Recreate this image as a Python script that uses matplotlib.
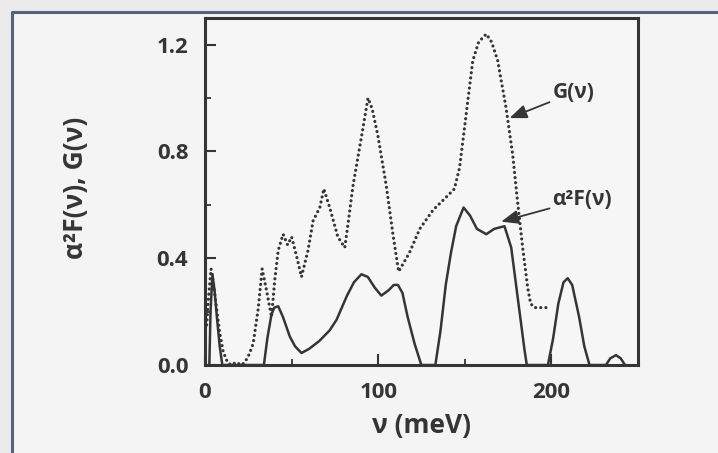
import matplotlib
matplotlib.use('Agg')
import matplotlib.pyplot as plt
from matplotlib.patches import Rectangle
from matplotlib.lines import Line2D
from matplotlib.ticker import MultipleLocator

plt.rcParams['font.family'] = ['Open Sans', 'DejaVu Sans']
plt.rcParams['font.weight'] = 'bold'
plt.rcParams['axes.labelweight'] = 'bold'

# alpha^2 F(nu) (meV, arbitrary units)
a2f_x = [2.5, 3.2, 4.3, 5.5, 7, 8.5, 10, 34, 36, 38.4, 40, 42.3, 45, 49, 52, 55.7, 60,
         66, 72, 76, 82, 86, 90.3, 94, 98, 101.8, 106, 109, 111.4, 114, 117, 121, 124.9,
         133, 136, 139, 142, 145, 149.3, 153, 157, 162.4, 167, 172.9, 176.8, 180.6,
         184.4, 185.8, 198, 201, 204, 207, 209.4, 212, 216, 219, 222, 231.5, 234, 237.3,
         240, 242.5]
a2f_y = [0.0, 0.2, 0.34, 0.28, 0.17, 0.07, 0.0, 0.0, 0.1, 0.19, 0.215, 0.22, 0.18, 0.106,
         0.07, 0.045, 0.06, 0.09, 0.13, 0.17, 0.26, 0.31, 0.34, 0.33, 0.29, 0.26, 0.28,
         0.30, 0.30, 0.27, 0.18, 0.08, 0.0, 0.0, 0.13, 0.30, 0.42, 0.52, 0.59, 0.56, 0.51,
         0.49, 0.51, 0.52, 0.44, 0.25, 0.06, 0.0, 0.0, 0.10, 0.23, 0.31, 0.325, 0.30, 0.18,
         0.07, 0.0, 0.0, 0.025, 0.037, 0.025, 0.0]

# phonon density of states G(nu)
g_x = [1, 2, 3.5, 5, 6.5, 8.5, 10.5, 13, 15, 18, 21, 23, 25.5, 27.8, 30.7, 33, 35.5,
       38.4, 40.3, 42.3, 45.1, 47.7, 50, 52.8, 55.7, 59.5, 62.4, 66.3, 68.6, 72, 76.7,
       80.7, 82.4, 85.4, 91, 94.1, 96.5, 99.8, 104.7, 108.5, 111.8, 118, 124, 131.6,
       141, 144, 147, 150.8, 154.6, 158, 162.4, 165.5, 169, 173.9, 177.6, 180.5, 183.4,
       186.3, 188, 190.2, 199]
g_y = [0.15, 0.25, 0.36, 0.30, 0.22, 0.12, 0.05, 0.01, 0.0, 0.01, 0.0, 0.01, 0.04, 0.08,
       0.21, 0.36, 0.28, 0.18, 0.32, 0.43, 0.49, 0.45, 0.48, 0.41, 0.33, 0.43, 0.54, 0.59,
       0.66, 0.59, 0.48, 0.44, 0.52, 0.67, 0.88, 1.00, 0.96, 0.86, 0.67, 0.49, 0.35, 0.42,
       0.51, 0.58, 0.64, 0.66, 0.74, 0.94, 1.14, 1.21, 1.24, 1.21, 1.14, 0.96, 0.79, 0.61,
       0.44, 0.29, 0.23, 0.215, 0.215]

ink = '#353535'

fig = plt.figure(figsize=(7.18, 4.53), dpi=100, facecolor='#ebebeb')
# scanned page frame: lighter panel with a dark edge on the left and top only
x0, y0 = 11.5 / 718, 1 - 11.5 / 453
fig.patches.append(Rectangle((x0, 0), 1 - x0, y0, transform=fig.transFigure,
                             facecolor='#f4f4f4', edgecolor='none', zorder=-5))
fig.lines.append(Line2D([x0, x0, 1], [0, y0, y0], transform=fig.transFigure,
                        color='#5a6078', lw=2.2, zorder=-4))

ax = fig.add_axes([205 / 718, 1 - 365 / 453, 433 / 718, 347 / 453])
ax.set_zorder(5)
ax.set_facecolor('#f6f6f6')

ax.plot(a2f_x, a2f_y, color=ink, lw=1.8, solid_joinstyle='round')
ax.plot(g_x, g_y, color=ink, lw=2.3, linestyle=(0, (0.01, 1.6)), dash_capstyle='round')

ax.set_xlim(0, 250)
ax.set_ylim(0, 1.3)
ax.xaxis.set_major_locator(MultipleLocator(100))
ax.xaxis.set_minor_locator(MultipleLocator(50))
ax.yaxis.set_major_locator(MultipleLocator(0.4))
ax.yaxis.set_minor_locator(MultipleLocator(0.2))
ax.yaxis.set_major_formatter(plt.FuncFormatter(lambda v, p: '%.1f' % v))

for s in ax.spines.values():
    s.set_linewidth(2.2)
    s.set_color(ink)
ax.tick_params(which='major', direction='in', length=8, width=1.5, color=ink,
               labelsize=16, labelcolor=ink)
ax.tick_params(which='minor', direction='in', length=4, width=1.3, color=ink)
ax.tick_params(axis='y', which='major', pad=12)
ax.tick_params(axis='x', which='major', pad=12)

ax.set_xlabel('ν (meV)', fontsize=19, color=ink)
ax.set_ylabel('α²F(ν), G(ν)', fontsize=19, color=ink)
ax.xaxis.set_label_coords(0.5, -0.135)
ax.yaxis.set_label_coords(-0.268, 0.51)

arrow = dict(arrowstyle='-|>,head_length=0.7,head_width=0.28', color=ink, lw=1.3,
             shrinkA=0, shrinkB=0)
ax.annotate('G(ν)', xy=(175.8, 0.925), xytext=(200.5, 1.02), fontsize=15, color=ink,
            va='center', ha='left', arrowprops=arrow)
ax.annotate('α²F(ν)', xy=(171, 0.537), xytext=(200.5, 0.62), fontsize=15, color=ink,
            va='center', ha='left', arrowprops=arrow)

fig.savefig('out.png', dpi=100, facecolor=fig.get_facecolor())
